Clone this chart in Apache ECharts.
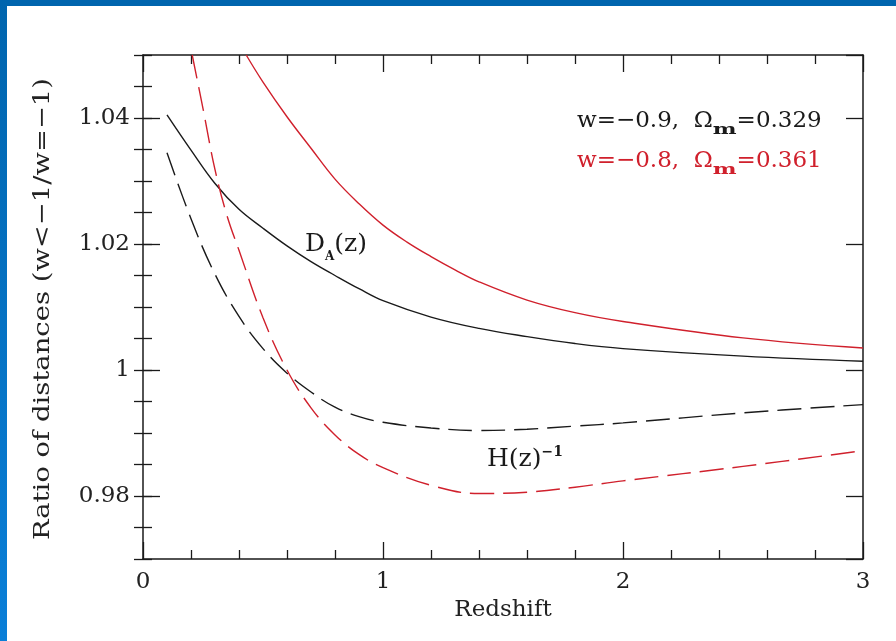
<!DOCTYPE html>
<html><head><meta charset="utf-8">
<script src="https://cdn.jsdelivr.net/npm/echarts@6/dist/echarts.min.js"></script>
<style>html,body{margin:0;padding:0;background:#fff}#c{width:896px;height:641px}</style>
</head><body><div id="c"></div>
<script>
// ---- data ----
const zDA09 = [0.1, 0.2, 0.3, 0.4, 0.5, 0.6, 0.7, 0.8, 0.9, 1.0, 1.2, 1.4, 1.6, 1.8, 2.0, 2.5, 3.0];
const vDA09 = [1.0405, 1.0349, 1.0296, 1.0255, 1.0225, 1.0197, 1.0172, 1.0150, 1.0129, 1.0110, 1.0084, 1.0066, 1.0053, 1.0042, 1.0034, 1.0022, 1.0014];

const zDA08 = [0.43, 0.5, 0.6, 0.7, 0.8, 0.9, 1.0, 1.1, 1.2, 1.3, 1.4, 1.6, 1.8, 2.0, 2.5, 3.0];
const vDA08 = [1.0500, 1.0457, 1.0402, 1.0352, 1.0303, 1.0264, 1.0230, 1.0203, 1.0180, 1.0159, 1.0140, 1.0111, 1.0091, 1.0077, 1.0051, 1.0035];

const zH09 = [0.1, 0.2, 0.3, 0.4, 0.5, 0.6, 0.7, 0.8, 0.9, 1.0, 1.2, 1.4, 1.6, 1.8, 2.0, 2.5, 3.0];
const vH09 = [1.0345, 1.0240, 1.0152, 1.0085, 1.0034, 0.9995, 0.9965, 0.9941, 0.9926, 0.9917, 0.9908, 0.9904, 0.9906, 0.9911, 0.9916, 0.9932, 0.9945];

const zH08 = [0.205, 0.25, 0.3, 0.35, 0.4, 0.5, 0.6, 0.7, 0.8, 0.9, 1.0, 1.2, 1.4, 1.6, 1.8, 2.0, 2.5, 3.0];
const vH08 = [1.0500, 1.0415, 1.0318, 1.0245, 1.0190, 1.0083, 1.0000, 0.9940, 0.9897, 0.9866, 0.9845, 0.9817, 0.9804, 0.9806, 0.9814, 0.9824, 0.9847, 0.9872];

const xTicks = [0, 1, 2, 3];
const yLabels = ['0.98', '1', '1.02', '1.04'];
const xTitle = 'Redshift';
const yTitle = 'Ratio of distances (w<\u22121/w=\u22121)';
const legendBlack = ['w=\u22120.9,  \u03A9', 'm', '=0.329'];
const legendRed = ['w=\u22120.8,  \u03A9', 'm', '=0.361'];

// ---- chart ----
const BLACK = '#1a1a1a', RED = '#d0202c';
const FONT = 'DejaVu Serif';
const pairs = (xs, ys) => xs.map((x, i) => [x, ys[i]]);

const chart = echarts.init(document.getElementById('c'), null, {renderer: 'canvas'});

const mainX = (pos, labels) => ({
  type: 'value', position: pos, min: 0, max: 3, interval: 1,
  axisLine: {show: true, onZero: false, lineStyle: {color: BLACK, width: 1.5}},
  axisTick: {show: true, inside: true, length: 17, lineStyle: {color: BLACK, width: 1.3}},
  minorTick: {show: true, splitNumber: 5, length: 9, lineStyle: {color: BLACK, width: 1.3}},
  splitLine: {show: false},
  axisLabel: {show: labels, margin: 12, fontFamily: FONT, fontSize: 23, color: '#222',
    formatter: v => (xTicks.includes(v) ? String(v) : '')},
  name: labels ? xTitle : '', nameLocation: 'middle', nameGap: 34,
  nameTextStyle: {fontFamily: FONT, fontSize: 23, color: '#222'}
});

const majorY = (pos, labels) => ({
  type: 'value', position: pos, min: 0.97, max: 1.05, splitNumber: 4,
  axisLine: {show: true, onZero: false, lineStyle: {color: BLACK, width: 1.5}},
  axisTick: {show: true, inside: true, length: 17, lineStyle: {color: BLACK, width: 1.3}},
  splitLine: {show: false},
  axisLabel: {show: labels, margin: 13, fontFamily: FONT, fontSize: 23, color: '#222',
    showMinLabel: false, showMaxLabel: false,
    formatter: v => { const s = Math.abs(v - 1) < 1e-9 ? '1' : v.toFixed(2); return yLabels.includes(s) ? s : ''; }}
});
const minorY = (pos) => ({
  type: 'value', position: pos, min: 0.97, max: 1.05, interval: 0.005,
  axisLine: {show: false},
  axisTick: {show: true, inside: true, length: 9, lineStyle: {color: BLACK, width: 1.3}},
  splitLine: {show: false}, axisLabel: {show: false}
});

const line = (name, data, color, dashed) => ({
  name, type: 'line', xAxisIndex: 0, yAxisIndex: 0, data, showSymbol: false, symbol: 'none',
  smooth: 0.4, clip: true, animation: false,
  lineStyle: {color, width: 1.4, type: dashed ? [24, 9] : 'solid'}
});

chart.setOption({
  backgroundColor: '#fff',
  animation: false,
  grid: {left: 143, right: 33, top: 55, bottom: 82, containLabel: false},
  xAxis: [mainX('bottom', true), mainX('top', false)],
  yAxis: [majorY('left', true), minorY('left'), majorY('right', false), minorY('right')],
  series: [
    line('DA w=-0.9', pairs(zDA09, vDA09), BLACK, false),
    line('DA w=-0.8', pairs(zDA08, vDA08), RED, false),
    line('H w=-0.9', pairs(zH09, vH09), BLACK, true),
    line('H w=-0.8', pairs(zH08, vH08), RED, true)
  ]
});

// ---- text annotations (mixed sub/superscripts) ----
const ctx = document.createElement('canvas').getContext('2d');
function textWidth(t, size, weight) {
  ctx.font = (weight || 'normal') + ' ' + size + 'px "' + FONT + '"';
  return ctx.measureText(t).width;
}
function run(x, baseline, parts) {
  const els = [];
  let cx = x;
  parts.forEach(p => {
    const size = p.size, weight = p.weight || 'normal', sx = p.sx || 1;
    const w = textWidth(p.t, size, weight) * sx;
    els.push({
      type: 'text', x: cx, y: baseline + (p.dy || 0) - 0.3 * size, scaleX: sx, z: 100,
      style: {text: p.t, fill: p.color, fontFamily: FONT, fontSize: size, fontWeight: weight,
        textAlign: 'left', textVerticalAlign: 'middle', align: 'left', verticalAlign: 'middle'}
    });
    cx += w + (p.gap || 0);
  });
  return els;
}

const graphics = [
  {type: 'rect', shape: {x: 0, y: 0, width: 896, height: 6}, style: {fill: '#0065ae'}, z: 200},
  {type: 'rect', shape: {x: 0, y: 0, width: 7, height: 641}, z: 200,
   style: {fill: new echarts.graphic.LinearGradient(0, 0, 0, 1, [{offset: 0, color: '#0065ae'}, {offset: 1, color: '#0a7fd8'}])}}
];
// y-axis title: rotated, stretched along its length like the reference's wide plotting font
const yTitleSize = 23, yTitleLen = 462;
graphics.push({
  type: 'text', x: 43, y: 309, rotation: Math.PI / 2, z: 100,
  scaleX: yTitleLen / textWidth(yTitle, yTitleSize),
  style: {text: yTitle, fill: '#222', fontFamily: FONT, fontSize: yTitleSize,
    textAlign: 'center', textVerticalAlign: 'middle', align: 'center', verticalAlign: 'middle'}
});
graphics.push(...run(577, 128, [
  {t: legendBlack[0], size: 23, color: BLACK},
  {t: legendBlack[1], size: 15, weight: 'bold', color: BLACK, dy: 7, sx: 1.5},
  {t: legendBlack[2], size: 23, color: BLACK}
]));
graphics.push(...run(577, 168, [
  {t: legendRed[0], size: 23, color: RED},
  {t: legendRed[1], size: 15, weight: 'bold', color: RED, dy: 7, sx: 1.5},
  {t: legendRed[2], size: 23, color: RED}
]));
graphics.push(...run(305, 252, [
  {t: 'D', size: 25, color: BLACK},
  {t: 'A', size: 12, weight: 'bold', color: BLACK, dy: 8},
  {t: '(z)', size: 25, color: BLACK}
]));
graphics.push(...run(487, 467, [
  {t: 'H(z)', size: 25, color: BLACK},
  {t: '\u22121', size: 14, weight: 'bold', color: BLACK, dy: -10}
]));
chart.setOption({graphic: graphics});
</script>
</body></html>
